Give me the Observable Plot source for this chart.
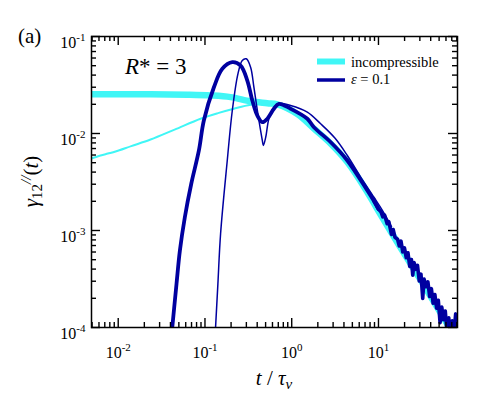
<!DOCTYPE html>
<html><head><meta charset="utf-8">
<script src="https://cdn.jsdelivr.net/npm/d3@7"></script>
<script src="https://cdn.jsdelivr.net/npm/@observablehq/plot@0.6"></script>
<style>body{margin:0;background:#fff}</style>
</head><body><div id="chart"></div>
<script>
// ---- data (stored as log10 exponents) ----
const incThickLogT = [-2.31, -1.627, -1.2, -0.933, -0.705, -0.474, -0.281, -0.166, 0.065, 0.256, 0.45, 0.641, 0.872, 1.0, 1.25, 1.5, 1.75, 1.85];
const incThickLogY = [-1.595, -1.595, -1.600, -1.608, -1.625, -1.668, -1.688, -1.70, -1.80, -1.95, -2.105, -2.295, -2.605, -2.80, -3.17, -3.53, -3.90, -4.05];

const incThinLogT = [-2.308, -2.204, -2.12, -2.031, -1.85, -1.627, -1.35, -1.051, -0.85, -0.667, -0.474, -0.281, -0.166, 0.0, 0.065, 0.256, 0.45];
const incThinLogY = [-2.258, -2.227, -2.207, -2.186, -2.13, -2.062, -1.96, -1.848, -1.79, -1.745, -1.704, -1.687, -1.69, -1.75, -1.79, -1.945, -2.10];

const epsThickLogT = [-1.42, -1.377, -1.328, -1.289, -1.232, -1.158, -1.07, -1.013, -0.897, -0.80, -0.685, -0.589, -0.512, -0.454, -0.397, -0.339, -0.281, -0.205, -0.148, -0.013, 0.18, 0.256, 0.45, 0.641, 0.872, 0.95,
  1.00, 1.03, 1.05, 1.07, 1.10, 1.12, 1.15, 1.17, 1.19, 1.22, 1.24, 1.26, 1.28, 1.30, 1.32, 1.34, 1.36, 1.38, 1.395, 1.41, 1.43, 1.45, 1.47, 1.49, 1.51, 1.525, 1.55, 1.57, 1.59, 1.61, 1.63, 1.65, 1.67, 1.69, 1.71, 1.73, 1.75, 1.77, 1.79, 1.81, 1.83, 1.85, 1.87, 1.89, 1.911];
const epsThickLogY = [-4.4, -4.0, -3.55, -3.206, -2.863, -2.518, -2.175, -1.866, -1.523, -1.333, -1.265, -1.30, -1.454, -1.66, -1.814, -1.883, -1.848, -1.745, -1.694, -1.745, -1.848, -1.935, -2.09, -2.278, -2.588, -2.70,
  -2.78, -2.81, -2.86, -2.84, -2.93, -2.91, -3.04, -2.99, -3.07, -3.09, -3.16, -3.11, -3.22, -3.18, -3.28, -3.23, -3.37, -3.30, -3.46, -3.33, -3.40, -3.36, -3.52, -3.45, -3.70, -3.50, -3.58, -3.53, -3.68, -3.60, -3.75, -3.66, -3.80, -3.72, -3.95, -3.79, -3.92, -3.83, -4.05, -3.90, -4.08, -3.93, -4.06, -3.86, -3.97];
const epsThickSmoothEnd = 26; // index where the noisy tail begins

const epsThinLogT = [-0.91, -0.878, -0.851, -0.82, -0.743, -0.685, -0.62, -0.57, -0.524, -0.474, -0.436, -0.39, -0.339, -0.327, -0.30, -0.263, -0.205, -0.148, -0.013, 0.18, 0.333, 0.50, 0.641, 0.795, 0.948, 1.05, 1.15];
const epsThinLogY = [-4.4, -4.0, -3.55, -3.034, -2.278, -1.763, -1.385, -1.247, -1.23, -1.316, -1.523, -1.797, -2.07, -2.124, -2.04, -1.848, -1.729, -1.69, -1.711, -1.78, -1.90, -2.05, -2.227, -2.45, -2.657, -2.80, -2.96];

const xMajor = [0.01, 0.1, 1, 10];
const yMajor = [1e-4, 1e-3, 1e-2, 1e-1];
const xDomain = [10 ** -2.308, 10 ** 1.911];
const yDomain = [1e-4, 1e-1];
const legendLabels = ["incompressible", "ε = 0.1"];

const CYAN = "#40f6f6", NAVY = "#0000a0";
const SERIF = "'Liberation Serif', 'Times New Roman', serif";

const rows = (lt, ly) => lt.map((e, i) => ({t: 10 ** e, y: 10 ** ly[i]}));
const incThick = rows(incThickLogT, incThickLogY);
const incThin = rows(incThinLogT, incThinLogY);
const epsThick = rows(epsThickLogT, epsThickLogY);
const epsThin = rows(epsThinLogT, epsThinLogY);

function minorTicks(lo, hi) {
  const out = [];
  for (let k = -5; k <= 2; k++) for (let m = 2; m <= 9; m++) {
    const v = m * 10 ** k;
    if (v >= lo * 0.999 && v <= hi * 1.001) out.push(v);
  }
  return out;
}
const xMinor = minorTicks(xDomain[0], xDomain[1]);
const yMinor = minorTicks(yDomain[0], yDomain[1]);
const expFmt = d => "10^" + Math.round(Math.log10(d));

const W = 491, H = 400, ML = 91, MR = 34, MT = 36, MB = 73;
const PW = W - ML - MR, PH = H - MT - MB;
const tk = {stroke: "black", strokeWidth: 1.4};

const chart = Plot.plot({
  width: W, height: H,
  marginLeft: ML, marginRight: MR, marginTop: MT, marginBottom: MB,
  style: {fontFamily: SERIF, background: "white", color: "black"},
  x: {type: "log", domain: xDomain, label: null},
  y: {type: "log", domain: yDomain, label: null},
  marks: [
    Plot.line(incThick, {x: "t", y: "y", stroke: CYAN, strokeWidth: 6.5, curve: "catmull-rom", clip: true}),
    Plot.line(incThin, {x: "t", y: "y", stroke: CYAN, strokeWidth: 2, curve: "catmull-rom", clip: true}),
    Plot.line(epsThick.slice(0, epsThickSmoothEnd + 1), {x: "t", y: "y", stroke: NAVY, strokeWidth: 3.8, curve: "catmull-rom", clip: true}),
    Plot.line(epsThick.slice(epsThickSmoothEnd - 1), {x: "t", y: "y", stroke: NAVY, strokeWidth: 3.6, strokeLinejoin: "round", curve: "linear", clip: true}),
    Plot.line(epsThin, {x: "t", y: "y", stroke: NAVY, strokeWidth: 1.5, curve: "catmull-rom", clip: true}),
    // inward ticks on all four sides
    Plot.tickX(xMajor, {x: d => d, insetTop: PH - 9, ...tk}),
    Plot.tickX(xMinor, {x: d => d, insetTop: PH - 5, ...tk}),
    Plot.tickX(xMajor, {x: d => d, insetBottom: PH - 9, ...tk}),
    Plot.tickX(xMinor, {x: d => d, insetBottom: PH - 5, ...tk}),
    Plot.tickY(yMajor, {y: d => d, insetRight: PW - 9, ...tk}),
    Plot.tickY(yMinor, {y: d => d, insetRight: PW - 5, ...tk}),
    Plot.tickY(yMajor, {y: d => d, insetLeft: PW - 9, ...tk}),
    Plot.tickY(yMinor, {y: d => d, insetLeft: PW - 5, ...tk}),
    Plot.frame({stroke: "black", strokeWidth: 1.5}),
    Plot.axisX(xMajor, {anchor: "bottom", tickSize: 0, tickPadding: 19, tickFormat: expFmt, fontSize: 16, label: null}),
    Plot.axisY(yMajor, {anchor: "left", tickSize: 0, tickPadding: 6, dy: 6, tickFormat: expFmt, fontSize: 16, label: null})
  ]
});
document.getElementById("chart").appendChild(chart);

const svg = d3.select(chart);
// superscript exponents in tick labels
svg.selectAll("text").each(function() {
  const m = /^10\^(-?\d+)$/.exec(this.textContent);
  if (!m) return;
  const el = d3.select(this);
  el.text(null);
  el.append("tspan").text("10");
  el.append("tspan").attr("dy", "-7").attr("font-size", 11).text(m[1]);
});

const addText = (x, y, size, anchor) => svg.append("text").attr("x", x).attr("y", y)
  .attr("text-anchor", anchor).attr("font-family", SERIF).attr("font-size", size).attr("fill", "black");

// y label
const yl = svg.append("text").attr("transform", "translate(38,181.5) rotate(-90)")
  .attr("text-anchor", "middle").attr("font-family", SERIF).attr("font-size", 21).attr("fill", "black");
yl.append("tspan").attr("font-style", "italic").text("γ");
yl.append("tspan").attr("font-size", 15).attr("dy", 4).text("12");
yl.append("tspan").attr("font-size", 15).attr("font-style", "italic").attr("dy", -11).text("//");
yl.append("tspan").attr("dy", 7).text("(");
yl.append("tspan").attr("font-style", "italic").text("t");
yl.append("tspan").text(")");

// x label
const xl = addText(274, 385, 21, "middle");
xl.append("tspan").attr("font-style", "italic").text("t");
xl.append("tspan").text(" / ");
xl.append("tspan").attr("font-style", "italic").text("τ");
xl.append("tspan").attr("font-style", "italic").attr("font-size", 15).attr("dy", 4).text("ν");

// panel tag and annotation
addText(18, 43, 21, "start").text("(a)");
const ann = addText(125, 74, 23, "start");
ann.append("tspan").attr("font-style", "italic").text("R");
ann.append("tspan").text("* = 3");

// legend
svg.append("line").attr("x1", 317).attr("x2", 345).attr("y1", 61.5).attr("y2", 61.5).attr("stroke", CYAN).attr("stroke-width", 6);
addText(351, 66.5, 14.5, "start").text(legendLabels[0]);
svg.append("line").attr("x1", 317).attr("x2", 345).attr("y1", 80).attr("y2", 80).attr("stroke", NAVY).attr("stroke-width", 3.5);
const l2 = addText(351, 84, 14.5, "start");
l2.append("tspan").attr("font-style", "italic").text(legendLabels[1].slice(0, 1));
l2.append("tspan").text(legendLabels[1].slice(1));
</script>
</body></html>
